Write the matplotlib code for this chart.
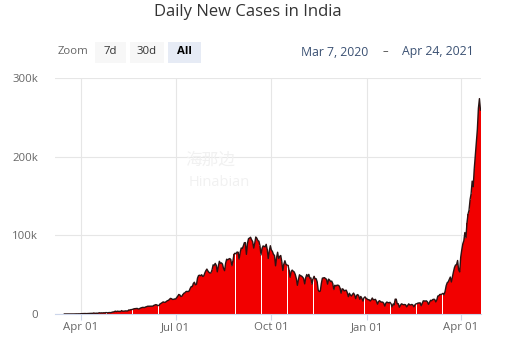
#!/usr/bin/env python3
# -*- coding: utf-8 -*-
'''Daily new COVID-19 cases in India, column chart with range selector header.'''

import matplotlib
matplotlib.use('Agg')
import matplotlib.pyplot as plt
from matplotlib.patches import FancyBboxPatch
import pandas as pd

# Daily new cases, one list per month (Mar 2020 starts on the 16th)
mar20 = [15, 11, 34, 14, 38, 50, 86, 66, 103, 37, 121, 70, 160, 100, 227, 146]
apr20 = [424, 486, 560, 579, 609, 484, 573, 565, 813, 871, 854, 758, 1243, 1031, 886,
         1061, 922, 1371, 1580, 1239, 1537, 1292, 1667, 1408, 1835, 1607, 1561, 1873, 1738, 1801]
may20 = [2396, 2564, 2952, 3656, 2971, 3602, 3344, 3339, 3175, 4311, 3592, 3562, 3726, 3991, 3808,
         3970, 5242, 4970, 5611, 5609, 6088, 6654, 6767, 6977, 7113, 6387, 6566, 7466, 7964, 8380, 8392]
jun20 = [8171, 8909, 9304, 9851, 9887, 9971, 9983, 9987, 9985, 10956, 11458, 11929, 11502, 10667, 10974,
         12881, 13586, 14516, 15413, 14821, 14933, 15968, 16922, 17296, 18552, 19906, 19459, 18522, 18653, 19148]
jul20 = [19148, 20903, 22771, 24850, 24248, 22252, 22752, 24879, 26506, 27114, 28637, 28701, 28498, 29429,
         32695, 34956, 34884, 38902, 40425, 37148, 37724, 45720, 48916, 49310, 48661, 49931, 47704, 48513,
         52123, 55078, 57118]
aug20 = [54735, 52972, 52050, 52509, 56282, 62538, 61537, 64399, 62064, 53601, 60963, 66999, 64553, 65002,
         63490, 57981, 55079, 64531, 69652, 68898, 69878, 70488, 69239, 61408, 67151, 75760, 77266, 76472,
         78761, 78512, 69921]
sep20 = [78357, 83883, 83341, 86432, 90632, 90802, 75809, 89706, 95735, 96551, 97570, 94372, 92071, 83809,
         90123, 97894, 96424, 93337, 92605, 86961, 75083, 83347, 86508, 86052, 85362, 88600, 82170, 70589,
         80472, 86821]
oct20 = [81484, 79476, 75829, 74442, 61267, 72049, 78524, 70496, 73272, 74383, 66732, 55342, 63509, 67708,
         63371, 62212, 61871, 55722, 46790, 54044, 55839, 54366, 53370, 50129, 45148, 36469, 43893, 49881,
         48648, 48268, 46963]
nov20 = [45231, 38310, 46253, 50210, 47638, 50357, 45674, 45903, 38073, 44281, 47905, 44879, 44878, 41100,
         30548, 28555, 29164, 38617, 45576, 45882, 46232, 45209, 44059, 37975, 44376, 43082, 41322, 41810,
         38772, 31118]
dec20 = [36604, 35668, 36595, 36652, 36011, 32981, 26567, 32080, 31521, 29398, 30006, 30254, 27071, 22065,
         26382, 24010, 22890, 25152, 26624, 24337, 19556, 23950, 24712, 23067, 18732, 22272, 20021, 16432,
         20549, 21822, 20035]
jan21 = [19079, 18177, 18088, 16504, 18088, 20346, 18139, 18222, 18645, 16311, 12584, 15968, 16946, 15590,
         15158, 15144, 13788, 10064, 13823, 15223, 14545, 14256, 14849, 13203, 9102, 12689, 11666, 18855,
         18855, 13083, 13052]
feb21 = [8635, 11039, 12899, 12408, 11713, 12059, 11831, 9110, 11067, 12923, 11610, 11649, 12194, 11427,
         9121, 11610, 12881, 13193, 13993, 13993, 14264, 10584, 13742, 16738, 16577, 16488, 16752, 15510]
mar21 = [12286, 14989, 17407, 16838, 18327, 18711, 18599, 15388, 17921, 22854, 23285, 24882, 24882, 25320,
         26291, 24492, 28903, 35871, 39726, 40953, 43846, 46951, 40715, 47262, 53476, 59118, 62258, 62714,
         68020, 56211, 53480]
apr21 = [72330, 81466, 89129, 93249, 103558, 96982, 115736, 126789, 131968, 145384, 152879, 168912,
         161736, 184372, 200739, 217353, 234692, 261500, 273810, 259170]

months = [mar20, apr20, may20, jun20, jul20, aug20, sep20, oct20, nov20, dec20, jan21, feb21, mar21, apr21]
cases = [v for m in months for v in m]
dates = pd.date_range('2020-03-16', periods=len(cases), freq='D')

yticks = [0, 100000, 200000, 300000]
ytick_labels = ['0', '100k', '200k', '300k']
xticks = ['2020-04-01', '2020-07-01', '2020-10-01', '2021-01-01', '2021-04-01']
xtick_labels = ['Apr 01', 'Jul 01', 'Oct 01', 'Jan 01', 'Apr 01']
zoom_buttons = ['7d', '30d', 'All']
range_from = 'Mar 7, 2020'
range_to = 'Apr 24, 2021'

W, H = 517, 342
fig = plt.figure(figsize=(W / 100, H / 100), dpi=100)
fig.patch.set_facecolor('white')
plt.rcParams['font.family'] = ['Open Sans', 'DejaVu Sans']

# plot area in pixels: x 55..481, y 78..314
ax = fig.add_axes([55 / W, (H - 314) / H, (481 - 55) / W, (314 - 78) / H])
ax.set_facecolor('white')

ax.bar(dates, cases, width=0.97, color='#f20000', linewidth=0, antialiased=False, zorder=2)
ax.plot(dates, cases, color='#2b1414', lw=1.0, zorder=3, solid_joinstyle='round')

ax.set_xlim(pd.Timestamp('2020-03-07'), pd.Timestamp('2021-04-20 12:00'))
ax.set_ylim(0, 300000)

ax.set_yticks(yticks)
ax.set_yticklabels(ytick_labels)
ax.set_xticks([pd.Timestamp(d) for d in xticks])
ax.set_xticklabels(xtick_labels)

ax.grid(True, color='#e6e6e6', lw=0.8, zorder=0)
ax.set_axisbelow(True)
for s in ['top', 'right', 'left']:
    ax.spines[s].set_visible(False)
ax.spines['bottom'].set_color('#ccd6eb')
ax.spines['bottom'].set_linewidth(0.8)
ax.tick_params(axis='y', length=0, pad=12, labelsize=8.2, labelcolor='#666666')
ax.tick_params(axis='x', length=4, width=0.8, color='#ccd6eb', pad=2, labelsize=8.2, labelcolor='#666666')

# watermark
fig.text(210 / W, 1 - 160 / H, '海那边', fontsize=12, color='#f1f1f1', ha='center', va='center',
         family=['Noto Sans CJK SC', 'DejaVu Sans'], zorder=5)
fig.text(219 / W, 1 - 183 / H, 'Hinabian', fontsize=10.5, color='#f1f1f1', ha='center', va='center', zorder=5)

# title and range selector
fig.text(248 / W, 1 - 12 / H, 'Daily New Cases in India', fontsize=12, color='#333333',
         ha='center', va='center')
fig.text(58 / W, 1 - 52 / H, 'Zoom', fontsize=8.2, color='#666666', ha='left', va='center')

btn_x = [95, 130, 168]
btn_w = [31, 34, 33]
for label, bx, bw in zip(zoom_buttons, btn_x, btn_w):
    active = label == 'All'
    rect = FancyBboxPatch((bx / W, 1 - 63 / H), bw / W, 21 / H, boxstyle='square,pad=0',
                          transform=fig.transFigure, facecolor='#e6ebf5' if active else '#f7f7f7',
                          edgecolor='none', zorder=1)
    fig.patches.append(rect)
    fig.text((bx + bw / 2) / W, 1 - 52 / H, label, fontsize=8.2, color='#000000' if active else '#333333',
             fontweight='bold' if active else 'normal', ha='center', va='center', zorder=2)

fig.text(335 / W, 1 - 52 / H, range_from, fontsize=8.8, color='#3b5173', ha='center', va='center')
fig.text(385 / W, 1 - 52 / H, '–', fontsize=8, color='#333333', ha='center', va='center')
fig.text(438 / W, 1 - 52 / H, range_to, fontsize=8.8, color='#3b5173', ha='center', va='center')

fig.savefig('out.png', dpi=100, facecolor='white')
plt.close(fig)
